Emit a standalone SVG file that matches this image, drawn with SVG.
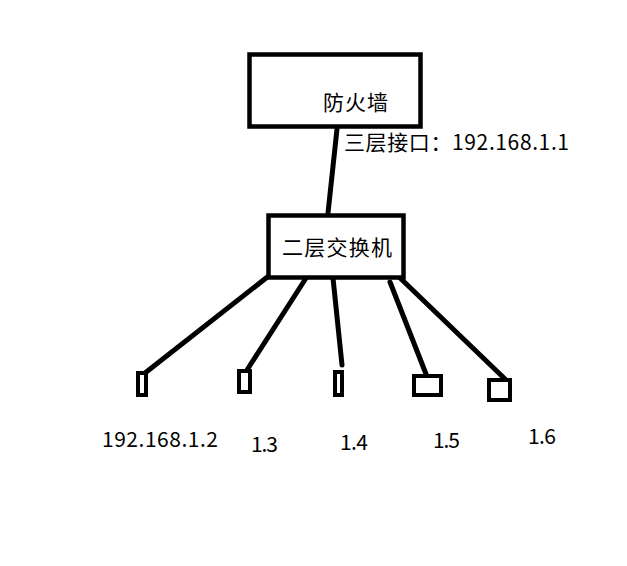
<svg xmlns="http://www.w3.org/2000/svg" width="627" height="566" viewBox="0 0 627 566">
<style>
.box{fill:#fff;stroke:#000;stroke-width:4.5}
.dev{fill:#fff;stroke:#000;stroke-width:4}
.ln{stroke:#000;stroke-width:5;stroke-linecap:round;fill:none}
.t{font-family:"Noto Sans CJK SC","Noto Sans",sans-serif;font-size:21px;fill:#000}
</style>
<rect width="627" height="566" fill="#fff"/>
<g id="connectors">
<line class="ln" x1="337" y1="129" x2="328" y2="213"/>
<line class="ln" x1="275" y1="271" x2="145" y2="373"/>
<line class="ln" x1="308" y1="275" x2="247" y2="370"/>
<line class="ln" x1="333" y1="278" x2="342" y2="365"/>
<line class="ln" x1="390" y1="282" x2="426" y2="374"/>
<line class="ln" x1="397" y1="275" x2="505" y2="379"/>
</g>
<g id="firewall">
<rect class="box" x="249.5" y="54.5" width="171" height="72"/>
<text class="t" x="323" y="110" textLength="65">防火墙</text>
</g>
<text class="t" x="344" y="150" textLength="225">三层接口：192.168.1.1</text>
<g id="switch">
<rect class="box" x="268.5" y="215.5" width="135" height="62"/>
<text class="t" x="282" y="255" textLength="110">二层交换机</text>
</g>
<g id="dev1">
<rect class="dev" x="138" y="373" width="8" height="22"/>
<text class="t" x="102" y="447" textLength="116">192.168.1.2</text>
</g>
<g id="dev2">
<rect class="dev" x="239" y="371" width="11" height="21"/>
<text class="t" x="251" y="452" textLength="27">1.3</text>
</g>
<g id="dev3">
<rect class="dev" x="335" y="372" width="7" height="23"/>
<text class="t" x="340" y="450" textLength="28">1.4</text>
</g>
<g id="dev4">
<rect class="dev" x="414" y="376" width="27" height="19"/>
<text class="t" x="433" y="448" textLength="27">1.5</text>
</g>
<g id="dev5">
<rect class="dev" x="489" y="380" width="21" height="20"/>
<text class="t" x="528" y="444" textLength="28">1.6</text>
</g>
</svg>
